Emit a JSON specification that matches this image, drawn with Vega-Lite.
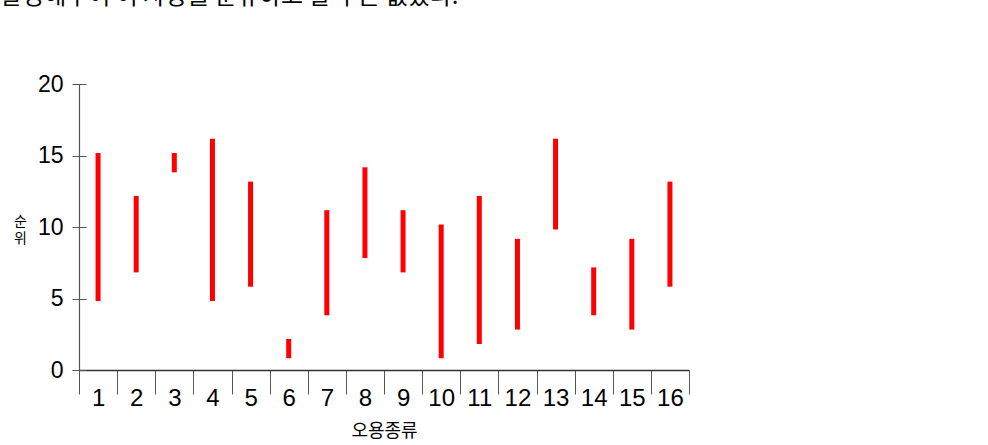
{
  "$schema": "https://vega.github.io/schema/vega-lite/v6.json",
  "autosize": {"type": "none"},
  "width": 610,
  "height": 286,
  "padding": {"left": 79, "top": 84, "right": 299, "bottom": 75},
  "background": "white",
  "title": {"text": "달성해주어 이 사항을 분류하고 할 수는 없었다.", "anchor": "start", "frame": "group", "dx": -79, "offset": 64, "font": "Noto Sans CJK KR", "fontSize": 24, "fontWeight": "normal", "color": "#000000"},
  "config": {"view": {"stroke": null}},
  "data": {"values": [
    {"type": 1, "low": 5, "high": 15},
    {"type": 2, "low": 7, "high": 12},
    {"type": 3, "low": 14, "high": 15},
    {"type": 4, "low": 5, "high": 16},
    {"type": 5, "low": 6, "high": 13},
    {"type": 6, "low": 1, "high": 2},
    {"type": 7, "low": 4, "high": 11},
    {"type": 8, "low": 8, "high": 14},
    {"type": 9, "low": 7, "high": 11},
    {"type": 10, "low": 1, "high": 10},
    {"type": 11, "low": 2, "high": 12},
    {"type": 12, "low": 3, "high": 9},
    {"type": 13, "low": 10, "high": 16},
    {"type": 14, "low": 4, "high": 7},
    {"type": 15, "low": 3, "high": 9},
    {"type": 16, "low": 6, "high": 13}
  ]},
  "layer": [
    {
      "mark": {"type": "rule", "color": "#ff0000", "strokeWidth": 5, "strokeCap": "square"},
      "encoding": {
        "x": {"field": "type", "type": "ordinal", "bandPosition": 0.5,
          "scale": {"type": "band", "paddingInner": 0, "paddingOuter": 0},
          "axis": {"title": "오용종류", "labelAngle": 0, "tickBand": "extent", "tickSize": 24, "labelPadding": -8,
            "labelFontSize": 24, "labelFont": "Liberation Sans", "labelColor": "#000000",
            "domainColor": "#333333", "tickColor": "#555555", "domainWidth": 1.5, "tickWidth": 1,
            "titleFont": "Noto Sans CJK KR", "titleFontSize": 18, "titleFontWeight": "normal", "titleColor": "#000000",
            "titleX": 305, "titleY": 61, "titleBaseline": "middle", "titleAlign": "center"}},
        "y": {"field": "low", "type": "quantitative", "scale": {"domain": [0, 20], "nice": false, "zero": true},
          "axis": {"orient": "left", "values": [0, 5, 10, 15, 20], "grid": false, "title": ["순", "위"], "titleAngle": 0,
            "titleX": -59, "titleY": 137, "titleAlign": "center", "titleBaseline": "middle",
            "titleFont": "Noto Sans CJK KR", "titleFontSize": 14, "titleLineHeight": 17, "titleFontWeight": "normal", "titleColor": "#000000",
            "tickSize": 7, "labelPadding": 9, "labelFontSize": 23, "labelFont": "Liberation Sans", "labelColor": "#000000",
            "domainColor": "#555555", "tickColor": "#555555", "domainWidth": 1.2}},
        "y2": {"field": "high"}
      }
    },
    {
      "mark": {"type": "rule", "opacity": 0},
      "encoding": {
        "x": {"field": "type", "type": "ordinal", "bandPosition": 0.5},
        "y": {"field": "low", "type": "quantitative",
          "axis": {"orient": "left", "values": [0, 5, 10, 15, 20], "grid": false, "title": null, "labels": false, "domain": false,
            "tickSize": -7, "tickColor": "#555555", "offset": 0}}
      }
    }
  ],
  "resolve": {"axis": {"y": "independent"}}
}
